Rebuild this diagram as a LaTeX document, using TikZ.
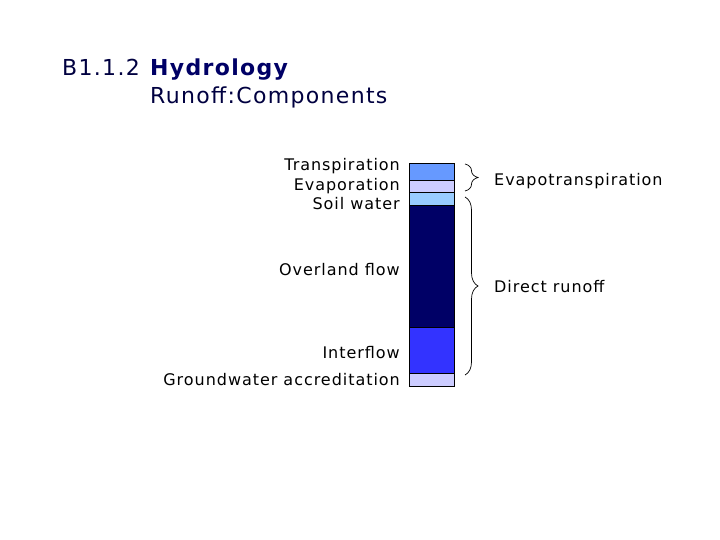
\documentclass[tikz,border=0pt]{standalone}
\usepackage{fontspec}
\setmainfont{DejaVu Sans}[LetterSpace=6]
\usetikzlibrary{decorations.pathreplacing}
\definecolor{ctr}{HTML}{6699FF}
\definecolor{cev}{HTML}{CCCCFF}
\definecolor{csw}{HTML}{99CCFF}
\definecolor{cov}{HTML}{000066}
\definecolor{cin}{HTML}{3333FF}
\definecolor{cgw}{HTML}{CCCCFF}
\definecolor{titlecol}{HTML}{000040}
\begin{document}
\begin{tikzpicture}[x=1pt,y=-1pt,
  seg/.style={draw=black, line width=0.7pt, minimum width=45pt, inner sep=0pt, outer sep=0pt, anchor=north west},
  lbl/.style={anchor=base east, inner sep=0pt, font=\fontsize{16}{19}\selectfont, text=black},
  rlbl/.style={anchor=base west, inner sep=0pt, font=\fontsize{16}{19}\selectfont, text=black},
  ttl/.style={anchor=base west, inner sep=0pt, font=\fontsize{22}{26}\selectfont, text=titlecol},
  brc/.style={draw=black, line width=0.7pt, decorate, decoration={brace, amplitude=13pt}}]
\useasboundingbox[fill=white] (0,0) rectangle (720,540);
% title
\node[ttl] (num) at (62,76) {B1.1.2};
\node[ttl, font=\fontsize{22}{26}\selectfont\bfseries, text=cov] (hyd) at (150,76) {Hydrology};
\node[ttl] (sub) at (150,103.5) {Runoff:Components};
% bar segments
\node[seg, fill=ctr, minimum height=16.3pt] (tr) at (409,163.7) {};
\node[seg, fill=cev, minimum height=12.7pt] (ev) at (409,180) {};
\node[seg, fill=csw, minimum height=13pt] (sw) at (409,192.7) {};
\node[seg, fill=cov, minimum height=121.6pt] (ov) at (409,205.7) {};
\node[seg, fill=cin, minimum height=46pt] (in) at (409,327.3) {};
\node[seg, fill=cgw, minimum height=12.7pt] (gw) at (409,373.3) {};
% left labels
\node[lbl] (ltr) at (400,170.5) {Transpiration};
\node[lbl] (lev) at (400,191) {Evaporation};
\node[lbl] (lsw) at (400,210) {Soil water};
\node[lbl] (lov) at (400,275) {Overland flow};
\node[lbl] (lin) at (400,358) {Interflow};
\node[lbl] (lgw) at (400,385) {Groundwater accreditation};
% braces
\coordinate (b1t) at (465,164);
\coordinate (b1b) at (465,191);
\coordinate (b2t) at (465,197);
\coordinate (b2b) at (465,375);
\draw[brc] (b1t) -- (b1b);
\draw[brc] (b2t) -- (b2b);
% right labels
\node[rlbl] (et) at (494,186) {Evapotranspiration};
\node[rlbl] (dr) at (494,292) {Direct runoff};
\end{tikzpicture}
\end{document}
